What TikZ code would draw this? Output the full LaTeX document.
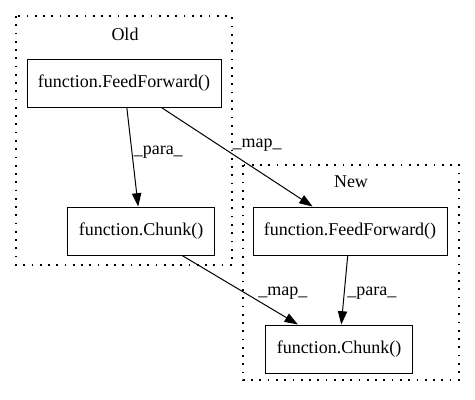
\documentclass[tikz,border=0pt]{standalone}
\usepackage{fontspec}
\setmainfont{Liberation Serif}
\usetikzlibrary{arrows.meta}

\begin{document}
\begin{tikzpicture}[
  x=0.75pt, y=-0.75pt,
  font=\fontsize{13.5}{16}\selectfont,
  fnbox/.style={draw, rectangle, minimum height=36pt, inner sep=0pt, line width=0.75pt},
  widebox/.style={fnbox, minimum width=145.5pt},
  narrowbox/.style={fnbox, minimum width=110pt},
  cluster/.style={draw, line width=1pt, dash pattern=on 1.3pt off 4.9pt},
  arr/.style={draw, -{Triangle[length=10pt, width=7pt]}, line width=0.75pt},
  elabel/.style={inner sep=1pt, anchor=west},
]

\useasboundingbox (0,0) rectangle (475,400);

%% ====================================================================
%%  CLUSTERS
%% ====================================================================
\draw[cluster] (16,16) rectangle (232,265);
\node (oldlbl) at (125,34) {Old};

\draw[cluster] (243,165) rectangle (459,380);
\node (newlbl) at (351,182) {New};

%% ====================================================================
%%  BLOCKS
%% ====================================================================
\node[widebox] (oldff) at (124,83) {function.FeedForward()};
\node[narrowbox] (oldchunk) at (141,231) {function.Chunk()};

\node[widebox] (newff) at (350,231) {function.FeedForward()};
\node[narrowbox] (newchunk) at (339,349) {function.Chunk()};

%% ====================================================================
%%  EDGES
%% ====================================================================
\draw[arr] (oldff) -- node[elabel, pos=0.45] {\_para\_} (oldchunk);
\draw[arr] (oldff) -- node[elabel, pos=0.38, xshift=9pt] {\_map\_} (newff);
\draw[arr] (oldchunk) -- node[elabel, pos=0.54, xshift=9pt] {\_map\_} (newchunk);
\draw[arr] (newff) -- node[elabel, pos=0.54, xshift=1pt] {\_para\_} (newchunk);

\end{tikzpicture}
\end{document}
